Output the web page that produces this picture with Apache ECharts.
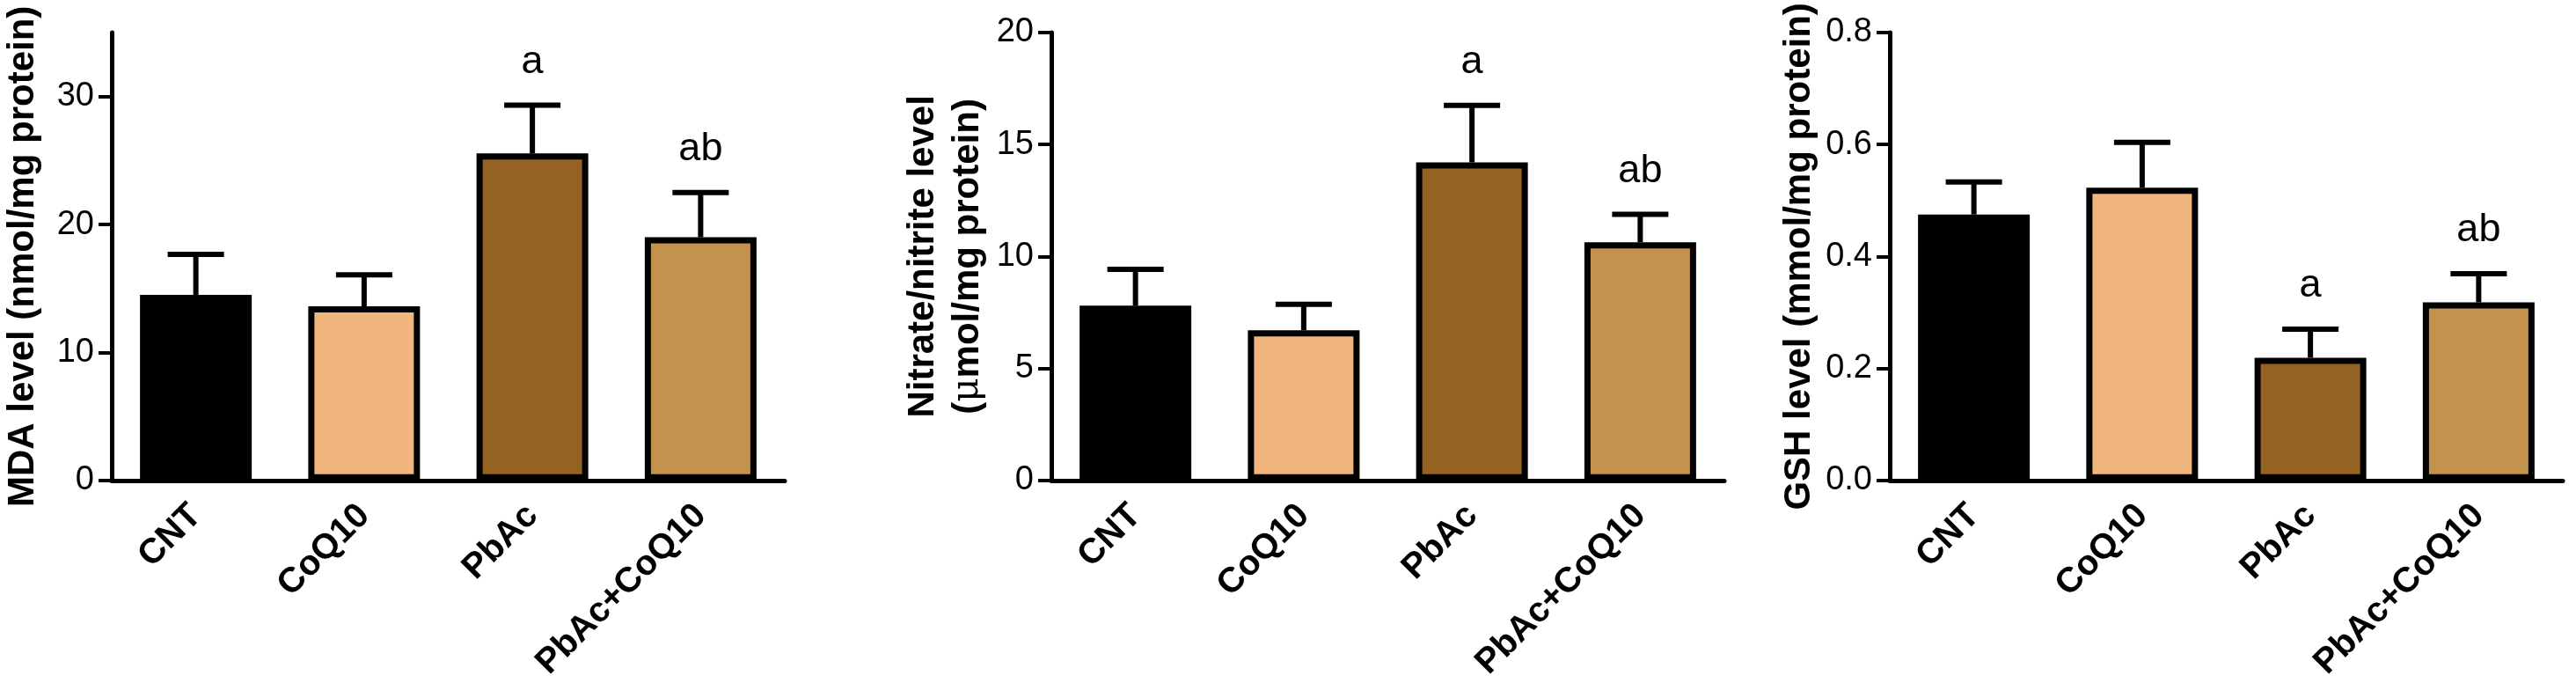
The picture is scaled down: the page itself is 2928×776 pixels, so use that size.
<!DOCTYPE html>
<html>
<head>
<meta charset="utf-8">
<script src="https://cdn.jsdelivr.net/npm/echarts@6/dist/echarts.min.js"></script>
<style>
html,body{margin:0;padding:0;background:#fff;}
#chart{width:2928px;height:776px;}
</style>
</head>
<body>
<div id="chart"></div>
<script>
// ---- data ----
const categories = ['CNT', 'CoQ10', 'PbAc', 'PbAc+CoQ10'];

const mdaMean = [14.5, 13.6, 25.55, 19.0];
const mdaSem  = [3.17, 2.47, 3.77, 3.49];
const mdaLetters = ['', '', 'a', 'ab'];
const mdaTicks = [0, 10, 20, 30];

const noMean = [7.8, 6.7, 14.2, 10.63];
const noSem  = [1.63, 1.16, 2.55, 1.25];
const noLetters = ['', '', 'a', 'ab'];
const noTicks = [0, 5, 10, 15, 20];

const gshMean = [0.475, 0.523, 0.219, 0.318];
const gshSem  = [0.058, 0.081, 0.051, 0.051];
const gshLetters = ['', '', 'a', 'ab'];
const gshTicks = [0, 0.2, 0.4, 0.6, 0.8];

// ---- styles ----
const barColors = ['#000000', '#F0B67E', '#946323', '#C4924F'];
const FONT = 'Liberation Sans, Arial, sans-serif';

const panels = [
  {mean: mdaMean, sem: mdaSem, letters: mdaLetters, ticks: mdaTicks, max: 35, interval: 10,
   left: 127, name: 'MDA level (nmol/mg protein)', nameGap: 75, fmt: v => String(v)},
  {mean: noMean, sem: noSem, letters: noLetters, ticks: noTicks, max: 20, interval: 5,
   left: 1195, name: '{b|Nitrate/nitrite level}\n{b|(}{m|\u03bc}{b|mol/mg protein)}', nameGap: 69, fmt: v => String(v)},
  {mean: gshMean, sem: gshSem, letters: gshLetters, ticks: gshTicks, max: 0.8, interval: 0.2,
   left: 2148, name: 'GSH level (mmol/mg protein)', nameGap: 69, fmt: v => v.toFixed(1)}
];

const grid = [], xAxis = [], yAxis = [], series = [];

panels.forEach((p, k) => {
  grid.push({left: p.left, width: 765, top: 37, height: 510, containLabel: false});
  xAxis.push({
    type: 'category', gridIndex: k, data: categories,
    axisLine: {lineStyle: {color: '#000', width: 5}},
    axisTick: {alignWithLabel: true, length: 15, lineStyle: {color: '#000', width: 4}},
    axisLabel: {rotate: 45, margin: 34, color: '#000', fontSize: 40, fontWeight: 'bold', fontFamily: FONT, interval: 0},
    splitLine: {show: false}
  });
  yAxis.push({
    type: 'value', gridIndex: k, min: 0, max: p.max, interval: p.interval,
    name: p.name, nameLocation: 'middle', nameRotate: 90, nameGap: p.nameGap,
    nameTextStyle: {color: '#000', fontSize: 42, fontWeight: 'bold', fontFamily: FONT, lineHeight: 51,
      rich: {
        b: {color: '#000', fontSize: 42, fontWeight: 'bold', fontFamily: FONT, lineHeight: 51},
        m: {color: '#000', fontSize: 42, fontWeight: 'normal', fontFamily: 'DejaVu Serif, serif', lineHeight: 51}
      }},
    axisLine: {show: true, lineStyle: {color: '#000', width: 5}},
    axisTick: {show: true, length: 15, lineStyle: {color: '#000', width: 4}, customValues: p.ticks},
    axisLabel: {color: '#000', fontSize: 38, fontFamily: FONT, margin: 20, customValues: p.ticks,
      formatter: p.fmt},
    splitLine: {show: false}
  });

  series.push({
    type: 'bar', xAxisIndex: k, yAxisIndex: k, barWidth: 127,
    data: p.mean.map((v, i) => ({value: v, itemStyle: {color: barColors[i], borderColor: '#000', borderWidth: 7}})),
    z: 2
  });

  series.push({
    type: 'custom', xAxisIndex: k, yAxisIndex: k, z: 3, clip: false,
    data: p.mean.map((v, i) => [i, v, p.sem[i]]),
    renderItem: function (params, api) {
      const i = api.value(0), m = api.value(1), e = api.value(2);
      const base = api.coord([i, m]);
      const top = api.coord([i, m + e]);
      const hw = 32;
      return {
        type: 'group',
        children: [
          {type: 'line', shape: {x1: base[0], y1: base[1], x2: top[0], y2: top[1]},
           style: {stroke: '#000', lineWidth: 6}},
          {type: 'line', shape: {x1: top[0] - hw, y1: top[1], x2: top[0] + hw, y2: top[1]},
           style: {stroke: '#000', lineWidth: 6}}
        ]
      };
    }
  });

  series.push({
    type: 'custom', xAxisIndex: k, yAxisIndex: k, z: 4, clip: false,
    data: p.mean.map((v, i) => [i, v + p.sem[i]]),
    renderItem: function (params, api) {
      const i = api.value(0), t = api.value(1);
      const pt = api.coord([i, t]);
      return {
        type: 'text',
        style: {text: p.letters[params.dataIndex], x: pt[0], y: pt[1] - 49,
          align: 'center', verticalAlign: 'middle', fontSize: 45, fontFamily: FONT, fill: '#000'}
      };
    }
  });
});

const chart = echarts.init(document.getElementById('chart'), null, {renderer: 'canvas'});
chart.setOption({animation: false, backgroundColor: '#fff', grid, xAxis, yAxis, series});
</script>
</body>
</html>
